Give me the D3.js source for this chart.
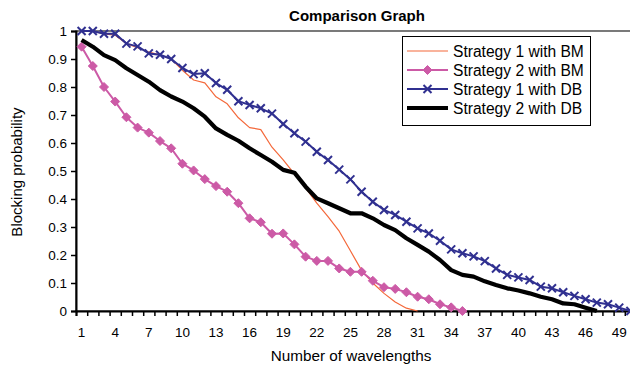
<!DOCTYPE html>
<html>
<head>
<meta charset="utf-8">
<script src="https://cdn.jsdelivr.net/npm/d3@7"></script>
<style>
  html, body { margin: 0; padding: 0; background: #fff; }
  svg { display: block; font-family: "Liberation Sans", Arial, sans-serif; }
</style>
</head>
<body>
<svg id="chart" width="630" height="372"></svg>
<script>
// Blocking probability per number of wavelengths (categories 1..50)
const categories = d3.range(1, 51);
const xTickLabels = [1, 4, 7, 10, 13, 16, 19, 22, 25, 28, 31, 34, 37, 40, 43, 46, 49];
const yTicks = [0, 0.1, 0.2, 0.3, 0.4, 0.5, 0.6, 0.7, 0.8, 0.9, 1];

const strategy1BM = [1.0, 1.0, 0.99, 0.985, 0.955, 0.94, 0.925, 0.915, 0.9, 0.86,
  0.825, 0.815, 0.765, 0.74, 0.69, 0.655, 0.648, 0.585, 0.54, 0.49,
  0.44, 0.385, 0.337, 0.285, 0.215, 0.145, 0.1, 0.063, 0.032, 0.01, 0];

const strategy2BM = [0.944, 0.875, 0.80, 0.748, 0.692, 0.655, 0.637, 0.607, 0.581, 0.526,
  0.502, 0.471, 0.446, 0.426, 0.385, 0.331, 0.317, 0.276, 0.277, 0.238,
  0.194, 0.179, 0.179, 0.152, 0.14, 0.14, 0.108, 0.085, 0.079, 0.067,
  0.051, 0.042, 0.024, 0.013, 0];

const strategy1DB = [1.0, 1.0, 0.99, 0.99, 0.955, 0.945, 0.92, 0.915, 0.9, 0.868,
  0.846, 0.849, 0.814, 0.79, 0.749, 0.736, 0.724, 0.705, 0.668, 0.635,
  0.605, 0.569, 0.539, 0.505, 0.47, 0.426, 0.39, 0.361, 0.343, 0.319,
  0.295, 0.277, 0.251, 0.22, 0.206, 0.195, 0.178, 0.152, 0.129, 0.12,
  0.111, 0.087, 0.081, 0.067, 0.054, 0.042, 0.03, 0.024, 0.012, 0];

const strategy2DB = [0.968, 0.944, 0.914, 0.896, 0.867, 0.843, 0.819, 0.789, 0.766, 0.748,
  0.724, 0.694, 0.652, 0.629, 0.608, 0.581, 0.557, 0.533, 0.504, 0.494,
  0.444, 0.402, 0.385, 0.367, 0.349, 0.349, 0.331, 0.307, 0.289, 0.26,
  0.236, 0.212, 0.182, 0.146, 0.129, 0.123, 0.106, 0.093, 0.081, 0.073,
  0.063, 0.051, 0.042, 0.027, 0.024, 0.012, 0];

const seriesNames = ["Strategy 1 with BM", "Strategy 2 with BM", "Strategy 1 with DB", "Strategy 2 with DB"];

const series = [
  { name: seriesNames[0], values: strategy1BM, color: "#f4683a", width: 1.2, marker: null },
  { name: seriesNames[1], values: strategy2BM, color: "#cc5aa6", width: 2, marker: "diamond" },
  { name: seriesNames[2], values: strategy1DB, color: "#303090", width: 2, marker: "cross" },
  { name: seriesNames[3], values: strategy2DB, color: "#000000", width: 4.2, marker: null }
];

const svg = d3.select("#chart");
const margin = { left: 76, top: 31 };
const plotW = 560, plotH = 280;

const x = d3.scaleBand().domain(categories).range([margin.left, margin.left + plotW]);
const xEdge = d3.scaleLinear().domain([0, categories.length]).range([margin.left, margin.left + plotW]);
const y = d3.scaleLinear().domain([0, 1]).range([margin.top + plotH, margin.top]);
const cx = d => x(d) + x.bandwidth() / 2;

// plot area frame (top/right edges)
svg.append("rect")
  .attr("x", margin.left).attr("y", margin.top)
  .attr("width", plotW).attr("height", plotH)
  .attr("fill", "none").attr("stroke", "#333").attr("stroke-width", 1.3);

// title
svg.append("text")
  .attr("x", 357).attr("y", 21)
  .attr("text-anchor", "middle")
  .attr("font-size", 15).attr("font-weight", "bold")
  .text("Comparison Graph");

// y axis
const yAxis = svg.append("g")
  .attr("transform", `translate(${margin.left},0)`)
  .call(d3.axisLeft(y).tickValues(yTicks).tickSize(5).tickPadding(4)
    .tickFormat(d => d3.format("")(+d.toFixed(1))));
yAxis.select(".domain").attr("stroke", "#000").attr("stroke-width", 2);
yAxis.selectAll(".tick line").attr("stroke", "#000").attr("stroke-width", 1.5);
yAxis.selectAll("text").attr("font-size", 13.5).attr("fill", "#000")
  .attr("font-family", "Liberation Sans, Arial, sans-serif");

// x axis: tick marks at category boundaries
const xTicksG = svg.append("g")
  .attr("transform", `translate(0,${margin.top + plotH})`)
  .call(d3.axisBottom(xEdge).tickValues(d3.range(0, categories.length + 1)).tickSize(5).tickFormat(""));
xTicksG.select(".domain").attr("stroke", "#000").attr("stroke-width", 2);
xTicksG.selectAll(".tick line").attr("stroke", "#000").attr("stroke-width", 1.5);

// x axis labels every third category
const xLabG = svg.append("g")
  .attr("transform", `translate(0,${margin.top + plotH})`)
  .call(d3.axisBottom(x).tickValues(xTickLabels).tickSize(0).tickPadding(16));
xLabG.select(".domain").remove();
xLabG.selectAll("text").attr("font-size", 13.5).attr("fill", "#000")
  .attr("font-family", "Liberation Sans, Arial, sans-serif");

// axis titles
svg.append("text")
  .attr("x", 351).attr("y", 361)
  .attr("text-anchor", "middle").attr("font-size", 15.3)
  .text("Number of wavelengths");
svg.append("text")
  .attr("transform", "translate(22,172) rotate(-90)")
  .attr("text-anchor", "middle").attr("font-size", 15)
  .text("Blocking probability");

// series
const line = d3.line().x((d, i) => cx(categories[i])).y(d => y(d));
const plot = svg.append("g");

function drawMarker(g, type, color) {
  if (type === "diamond") {
    g.append("path").attr("d", "M0,-4.5L4.5,0L0,4.5L-4.5,0Z").attr("fill", color).attr("stroke", color).attr("stroke-width", 1);
  } else if (type === "cross") {
    g.append("path").attr("d", "M-4,-4L4,4M-4,4L4,-4").attr("stroke", color).attr("stroke-width", 2).attr("fill", "none");
  }
}

series.forEach(s => {
  plot.append("path")
    .datum(s.values)
    .attr("d", line)
    .attr("fill", "none")
    .attr("stroke", s.color)
    .attr("stroke-width", s.width)
    .attr("stroke-linejoin", "round");
  if (s.marker) {
    s.values.forEach((v, i) => {
      const g = plot.append("g").attr("transform", `translate(${cx(categories[i])},${y(v)})`);
      drawMarker(g, s.marker, s.color);
    });
  }
});

// legend
const legend = svg.append("g");
legend.append("rect")
  .attr("x", 402.5).attr("y", 36.5).attr("width", 188).attr("height", 89)
  .attr("fill", "#fff").attr("stroke", "#000").attr("stroke-width", 1);
const rowY = d3.scalePoint().domain(seriesNames).range([51, 108]);
series.forEach(s => {
  const yy = rowY(s.name);
  legend.append("line")
    .attr("x1", 407).attr("x2", 448).attr("y1", yy).attr("y2", yy)
    .attr("stroke", s.color).attr("stroke-width", s.width);
  if (s.marker) {
    const g = legend.append("g").attr("transform", `translate(427.5,${yy})`);
    drawMarker(g, s.marker, s.color);
  }
  legend.append("text")
    .attr("x", 453).attr("y", yy + 5.5)
    .attr("font-size", 15.6)
    .text(s.name);
});
</script>
</body>
</html>
